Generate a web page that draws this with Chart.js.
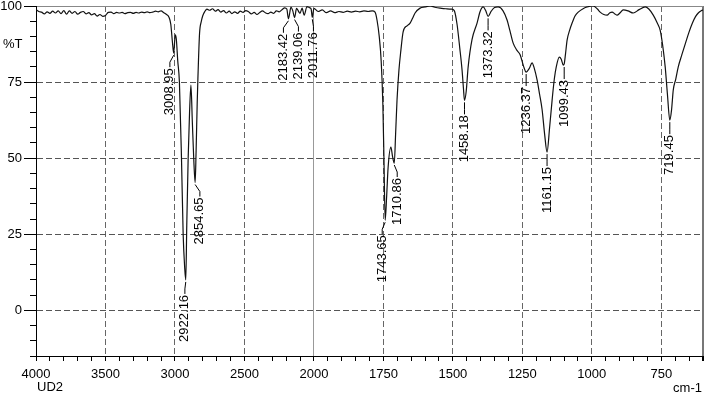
<!DOCTYPE html>
<html>
<head>
<meta charset="utf-8">
<script src="https://cdn.jsdelivr.net/npm/chart.js@4/dist/chart.umd.min.js"></script>
<style>
  body { margin: 0; background: #fff; }
  canvas { display: block; }
</style>
</head>
<body>
<canvas id="ir" width="704" height="394"></canvas>
<script>
// spectrum (cm-1, %T)
const wavenumbers = [
  4000, 3980, 3960, 3940, 3920, 3900, 3880, 3860, 3840, 3820, 3800, 3780, 3760, 3740, 3720, 3700,
  3680, 3660, 3640, 3620, 3600, 3580, 3560, 3540, 3520, 3500, 3480, 3460, 3440, 3420, 3400, 3380,
  3360, 3340, 3320, 3300, 3280, 3260, 3240, 3220, 3200, 3180, 3160, 3140, 3120, 3100, 3080, 3060,
  3045, 3030, 3018, 3008.95, 2998, 2990, 2980, 2968, 2953, 2941, 2930, 2922.16, 2915, 2905, 2895,
  2885, 2875, 2865, 2854.65, 2848, 2840, 2835, 2823, 2810, 2800, 2785, 2770, 2750, 2730, 2710, 2690,
  2670, 2650, 2630, 2610, 2590, 2570, 2550, 2530, 2510, 2490, 2470, 2450, 2430, 2410, 2390, 2370,
  2350, 2330, 2310, 2290, 2270, 2250, 2230, 2210, 2195, 2183.42, 2165, 2152, 2139.06, 2125, 2100,
  2085, 2070, 2050, 2030, 2020, 2011.76, 2000, 1985, 1970, 1955, 1940, 1925, 1910, 1895, 1880,
  1865, 1850, 1835, 1820, 1805, 1790, 1780, 1773, 1765, 1758, 1752, 1748, 1743.65, 1738, 1733,
  1723, 1717, 1710.86, 1706, 1701, 1694, 1687, 1679, 1665, 1654, 1645, 1636, 1618, 1600, 1582,
  1565, 1546, 1525, 1505, 1495, 1485, 1475, 1467, 1462, 1458.18, 1452, 1445, 1431, 1413, 1402,
  1391, 1382, 1373.32, 1362, 1350, 1337, 1320, 1305, 1295, 1283, 1270, 1258, 1245, 1236.37, 1225,
  1215, 1207, 1197, 1188, 1179, 1170, 1161.15, 1152, 1143, 1135, 1128, 1117, 1110, 1103, 1099.43,
  1095, 1089, 1080, 1071, 1060, 1049, 1030, 1017, 995, 980, 970, 957, 945, 935, 927, 917, 909, 900,
  887, 870, 851, 830, 808, 795, 779, 765, 754, 745, 736, 728, 719.45, 713, 707, 698, 689, 676, 663,
  650, 638, 627, 617, 605, 600
]
const transmittance = [
  98.8, 98.2, 98.0, 97.4, 98.1, 97.6, 98.3, 97.7, 98.4, 97.5, 98.5, 97.3, 98.4, 97.6, 98.2, 97.3,
  97.9, 98.2, 97.4, 97.8, 97.1, 97.5, 96.7, 97.2, 96.6, 96.9, 97.9, 98.0, 97.5, 97.9, 97.7, 97.9,
  97.5, 97.8, 97.9, 97.6, 97.9, 97.7, 98.0, 97.8, 98.1, 97.8, 98.0, 98.3, 98.1, 98.4, 97.8, 97.2,
  96.5, 94.0, 88.0, 84.5, 90.5, 89.0, 82.0, 75.0, 50.0, 25.0, 14.0, 10.0, 28.0, 50.0, 65.0,
  74.0, 62.0, 50.0, 42.0, 52.0, 68.0, 76.0, 91.0, 95.0, 96.8, 98.2, 99.0, 98.6, 99.1, 98.3, 98.8,
  98.0, 98.5, 97.7, 98.3, 97.5, 98.1, 97.6, 98.3, 97.9, 98.5, 98.1, 97.4, 97.9, 97.2, 97.9, 98.4,
  97.8, 97.5, 98.0, 97.6, 98.4, 98.1, 98.8, 99.4, 99.0, 95.8, 99.6, 98.4, 96.2, 99.2, 97.6,
  99.3, 97.0, 99.8, 99.4, 99.0, 96.3, 99.2, 98.2, 98.7, 97.8, 98.4, 97.8, 98.2, 97.9, 98.3,
  98.0, 98.3, 98.1, 98.4, 98.2, 98.4, 98.0, 95.4, 90.0, 82.0, 68.0, 50.0, 29.6, 38.0, 47.0,
  53.6, 50.5, 48.4, 58.0, 69.0, 79.0, 85.5, 91.5, 93.5, 94.4, 96.0, 97.7, 99.3, 99.7, 100.0,
  99.6, 99.3, 99.1, 99.0, 98.5, 94.0, 86.0, 79.0, 73.0, 69.0, 72.0, 80.0, 89.0, 94.4, 98.2,
  99.7, 98.5, 96.6, 98.3, 99.5, 99.7, 98.5, 95.4, 92.0, 87.8, 85.5, 84.0, 80.0, 78.3, 79.5,
  81.3, 79.5, 75.7, 71.0, 66.0, 58.0, 52.0, 60.0, 69.0, 76.0, 80.0, 83.2, 82.5, 80.6, 81.0,
  84.0, 88.8, 92.0, 94.4, 96.8, 98.0, 99.2, 99.7, 100.0, 99.0, 98.0, 97.2, 97.0, 97.8, 98.0, 97.4, 97.0, 97.6,
  98.7, 98.4, 97.7, 98.8, 99.7, 99.0, 97.0, 94.5, 92.0, 87.0, 80.0, 71.0, 62.5, 66.0, 72.4, 76.0, 80.0, 84.0, 87.8,
  91.5, 94.4, 96.5, 97.7, 98.5, 98.7
]

// peak picks
const peakWavenumbers = [3008.95, 2922.16, 2854.65, 2183.42, 2139.06, 2011.76, 1743.65, 1710.86, 1458.18, 1373.32, 1236.37, 1161.15, 1099.43, 719.45]
const peakTransmittance = [84.5, 10.0, 42.0, 95.8, 96.2, 96.3, 29.6, 48.4, 69.0, 96.6, 78.3, 52.0, 80.6, 62.5]
const peakTexts = ['3008.95', '2922.16', '2854.65', '2183.42', '2139.06', '2011.76', '1743.65', '1710.86', '1458.18', '1373.32', '1236.37', '1161.15', '1099.43', '719.45']

// axis labels
const xTickLabels = [4000, 3500, 3000, 2500, 2000, 1750, 1500, 1250, 1000, 750]
const yTickLabels = [100, 75, 50, 25, 0]

const FONT = '"Liberation Sans", Arial, Helvetica, sans-serif'

// above 2000 cm-1 the scale is compressed by 2
function toAxis(w) {
  return w > 2000 ? 2000 + (w - 2000) / 2 : w
}
function fromAxis(u) {
  return u > 2000 ? 2000 + (u - 2000) * 2 : u
}

const points = wavenumbers.map((w, i) => ({ x: toAxis(w), y: transmittance[i] }))

// peak labels, frame text, long ticks
const extras = {
  id: 'extras',
  afterDatasetsDraw(chart) {
    const { ctx, chartArea, scales } = chart
    const x = scales.x
    const y = scales.y
    ctx.save()
    ctx.fillStyle = '#000'
    ctx.strokeStyle = '#000'
    ctx.lineWidth = 1

    // longer ticks on labelled y values
    ctx.beginPath()
    yTickLabels.forEach(v => {
      const py = Math.round(y.getPixelForValue(v)) + 0.5
      ctx.moveTo(chartArea.left - 12, py)
      ctx.lineTo(chartArea.left, py)
    })
    ctx.stroke()

    ctx.font = '13px ' + FONT
    ctx.textBaseline = 'middle'
    ctx.textAlign = 'left'
    ctx.fillText('%T', 3, 44)
    ctx.fillText('UD2', 37, 387)
    ctx.textAlign = 'right'
    ctx.fillText('cm-1', 702, 388)

    const items = peakWavenumbers.map((w, i) => ({
      text: peakTexts[i],
      px: x.getPixelForValue(toAxis(w)),
      py: y.getPixelForValue(peakTransmittance[i])
    }))
    items.sort((a, b) => a.px - b.px)
    items.forEach(it => { it.lx = it.px })
    const minGap = 15
    for (let k = 0; k < 60; k++) {
      for (let i = 0; i < items.length - 1; i++) {
        const d = items[i + 1].lx - items[i].lx
        if (d < minGap) {
          const s = (minGap - d) / 2
          items[i].lx -= s
          items[i + 1].lx += s
        }
      }
    }

    ctx.beginPath()
    items.forEach(it => {
      ctx.moveTo(it.px, it.py + 2)
      ctx.lineTo(it.lx, it.py + 9)
      ctx.lineTo(it.lx, it.py + 14)
    })
    ctx.stroke()

    items.forEach(it => {
      ctx.save()
      ctx.translate(it.lx, it.py + 15)
      ctx.rotate(-Math.PI / 2)
      ctx.textAlign = 'right'
      ctx.textBaseline = 'middle'
      ctx.fillText(it.text, 0, 0)
      ctx.restore()
    })
    ctx.restore()
  }
}

const xGridColor = (c) => {
  const w = Math.round(fromAxis(c.tick.value))
  if (w === 600) return '#777'
  if (w === 2000) return '#999'
  if (w === 4000) return 'rgba(0,0,0,0)'
  return xTickLabels.includes(w) ? '#666' : 'rgba(0,0,0,0)'
}
const yGridColor = (c) => {
  const v = c.tick.value
  if (v === 100) return '#888'
  return yTickLabels.includes(v) ? '#555' : 'rgba(0,0,0,0)'
}

new Chart(document.getElementById('ir'), {
  type: 'line',
  data: {
    datasets: [{
      data: points,
      borderColor: '#111',
      borderWidth: 1.2,
      pointRadius: 0,
      fill: false,
      cubicInterpolationMode: 'monotone'
    }]
  },
  options: {
    responsive: false,
    animation: false,
    devicePixelRatio: 1,
    layout: { padding: { top: 6, right: 1, left: 0, bottom: 0 } },
    plugins: { legend: { display: false }, tooltip: { enabled: false } },
    scales: {
      x: {
        type: 'linear',
        reverse: true,
        min: 600,
        max: 3000,
        afterBuildTicks: (scale) => {
          const t = []
          for (let u = 600; u <= 3000; u += 50) t.push({ value: u })
          scale.ticks = t
        },
        afterFit: (scale) => {
          scale.height = 38
          scale.paddingLeft = 0
          scale.paddingRight = 0
        },
        ticks: {
          autoSkip: false,
          maxRotation: 0,
          padding: 6,
          color: '#000',
          font: { family: FONT, size: 13 },
          callback: (value) => {
            const w = Math.round(fromAxis(value))
            return xTickLabels.includes(w) ? String(w) : ''
          }
        },
        grid: {
          color: xGridColor,
          lineWidth: (c) => Math.round(fromAxis(c.tick.value)) === 600 ? 2 : 1,
          tickColor: '#000',
          tickLength: 5
        },
        border: {
          color: '#000',
          width: 1,
          dash: (c) => {
            const w = c.tick ? Math.round(fromAxis(c.tick.value)) : 0
            return (w === 2000 || w === 600) ? [] : [6, 3]
          }
        }
      },
      y: {
        min: -15,
        max: 100,
        afterFit: (scale) => {
          scale.width = 36
          scale.paddingTop = 0
          scale.paddingBottom = 0
        },
        ticks: {
          stepSize: 5,
          autoSkip: false,
          padding: 8,
          color: '#000',
          font: { family: FONT, size: 13 },
          callback: (value) => yTickLabels.includes(value) ? String(value) : ''
        },
        grid: {
          color: yGridColor,
          tickColor: '#000',
          tickLength: 6
        },
        border: {
          color: '#000',
          width: 1,
          dash: (c) => (c.tick && c.tick.value === 100) ? [] : [6, 3]
        }
      }
    }
  },
  plugins: [extras]
})
</script>
</body>
</html>
